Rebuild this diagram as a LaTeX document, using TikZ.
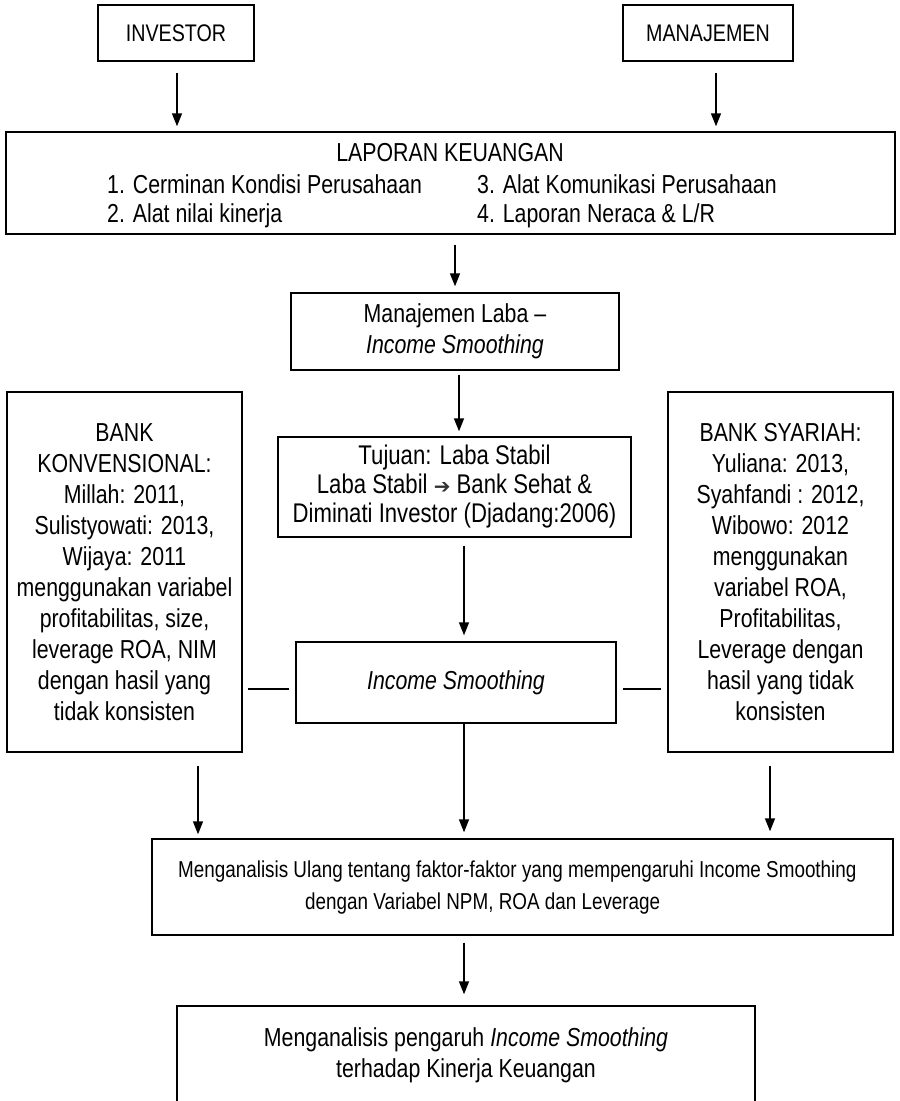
\documentclass[tikz,border=0pt]{standalone}
\usepackage{fontspec}
\setmainfont{Liberation Sans}[FakeStretch=0.82]
\newfontfamily\arrowfont{DejaVu Sans}
\usetikzlibrary{arrows.meta}
\tikzset{
  box/.style={draw, line width=1.4pt, inner sep=0pt, align=center,
    font=\fontsize{26}{31}\selectfont},
  txt/.style={inner sep=0pt, font=\fontsize{26}{31}\selectfont, text height=18pt, text depth=5pt},
  arr/.style={line width=1.4pt, -{Triangle[width=10pt,length=13pt]}},
  ln/.style={line width=1.4pt}
}
\begin{document}
\begin{tikzpicture}[x=1pt,y=-1pt]
\useasboundingbox (0,0) rectangle (900,1101);
\clip (0,0) rectangle (900,1101);
% top boxes
\node[box, minimum width=156pt, minimum height=56pt, font=\fontsize{24}{29}\selectfont] (inv) at (176,33) {INVESTOR};
\node[box, minimum width=170pt, minimum height=56pt, font=\fontsize{24}{29}\selectfont] (man) at (708,33) {MANAJEMEN};
% laporan
\node[box, minimum width=889pt, minimum height=102pt] (lap) at (450.5,183) {};
\node[txt] (lapt) at (450,155) {LAPORAN KEUANGAN};
\node[txt, anchor=west] (l1) at (107,187) {1. Cerminan Kondisi Perusahaan};
\node[txt, anchor=west] (l2) at (107,216) {2. Alat nilai kinerja};
\node[txt, anchor=west] (l3) at (477,187) {3. Alat Komunikasi Perusahaan};
\node[txt, anchor=west] (l4) at (477,216) {4. Laporan Neraca \& L/R};
% middle column
\node[box, minimum width=328pt, minimum height=77pt] (ml) at (455,331.5) {Manajemen Laba --\\\textit{Income Smoothing}};
\node[box, minimum width=353pt, minimum height=100pt, font=\fontsize{27}{29}\selectfont] (tj) at (454.5,487)
  {Tujuan: Laba Stabil\\Laba Stabil {\arrowfont\fontsize{20}{29}\selectfont\color{black!80}➔} Bank Sehat \&\\Diminati Investor (Djadang:2006)};
\node[box, minimum width=320pt, minimum height=81pt] (is) at (456,682.5) {\textit{Income Smoothing}};
% side boxes
\node[box, minimum width=235pt, minimum height=360pt] (lb) at (124.5,572)
  {BANK\\KONVENSIONAL:\\Millah: 2011,\\Sulistyowati: 2013,\\Wijaya: 2011\\menggunakan variabel\\profitabilitas, size,\\leverage ROA, NIM\\dengan hasil yang\\tidak konsisten};
\node[box, minimum width=225pt, minimum height=360pt] (rb) at (780.5,572)
  {BANK SYARIAH:\\Yuliana: 2013,\\Syahfandi : 2012,\\Wibowo: 2012\\menggunakan\\variabel ROA,\\Profitabilitas,\\Leverage dengan\\hasil yang tidak\\konsisten};
% bottom boxes
\node[box, minimum width=741pt, minimum height=96pt] (mu) at (522.5,887) {};
\node[txt, anchor=west, font=\fontsize{23}{32}\selectfont] (mu1) at (178,871)
  {Menganalisis Ulang tentang faktor-faktor yang mempengaruhi Income Smoothing};
\node[txt, anchor=west, font=\fontsize{23}{32}\selectfont] (mu2) at (305,903)
  {dengan Variabel NPM, ROA dan Leverage};
\node[box, minimum width=578pt, minimum height=99pt] (last) at (466,1055.5)
  {Menganalisis pengaruh \textit{Income Smoothing}\\terhadap Kinerja Keuangan};
% arrows
\draw[arr, shorten <=11pt, shorten >=5pt] ([xshift=1pt]inv.south) -- ([xshift=1pt]inv.south |- lap.north);
\draw[arr, shorten <=11pt, shorten >=5pt] ([xshift=8pt]man.south) -- ([xshift=8pt]man.south |- lap.north);
\draw[arr, shorten <=10pt, shorten >=6pt] (ml.north |- lap.south) -- (ml.north);
\draw[arr, shorten <=4pt, shorten >=5pt] ([xshift=4pt]ml.south) -- ([xshift=4pt]ml.south |- tj.north);
\draw[arr, shorten <=8pt, shorten >=6pt] ([xshift=8pt]is.north |- tj.south) -- ([xshift=8pt]is.north);
\draw[arr, shorten >=6pt] ([xshift=8pt]is.south) -- ([xshift=8pt]is.south |- mu.north);
\draw[arr, shorten <=13pt, shorten >=4pt] ([xshift=73.5pt]lb.south) -- ([xshift=73.5pt]lb.south |- mu.north);
\draw[arr, shorten <=13pt, shorten >=7pt] ([xshift=-10.5pt]rb.south) -- ([xshift=-10.5pt]rb.south |- mu.north);
\draw[arr, shorten <=7pt, shorten >=11pt] ([xshift=-58.5pt]mu.south) -- ([xshift=-58.5pt]mu.south |- last.north);
% side connectors
\draw[ln, shorten <=6pt, shorten >=5pt] ([yshift=-6.5pt]is.west) -- ([yshift=-6.5pt]is.west -| lb.east);
\draw[ln, shorten <=6pt, shorten >=6pt] ([yshift=-6.5pt]is.east) -- ([yshift=-6.5pt]is.east -| rb.west);
\end{tikzpicture}
\end{document}
